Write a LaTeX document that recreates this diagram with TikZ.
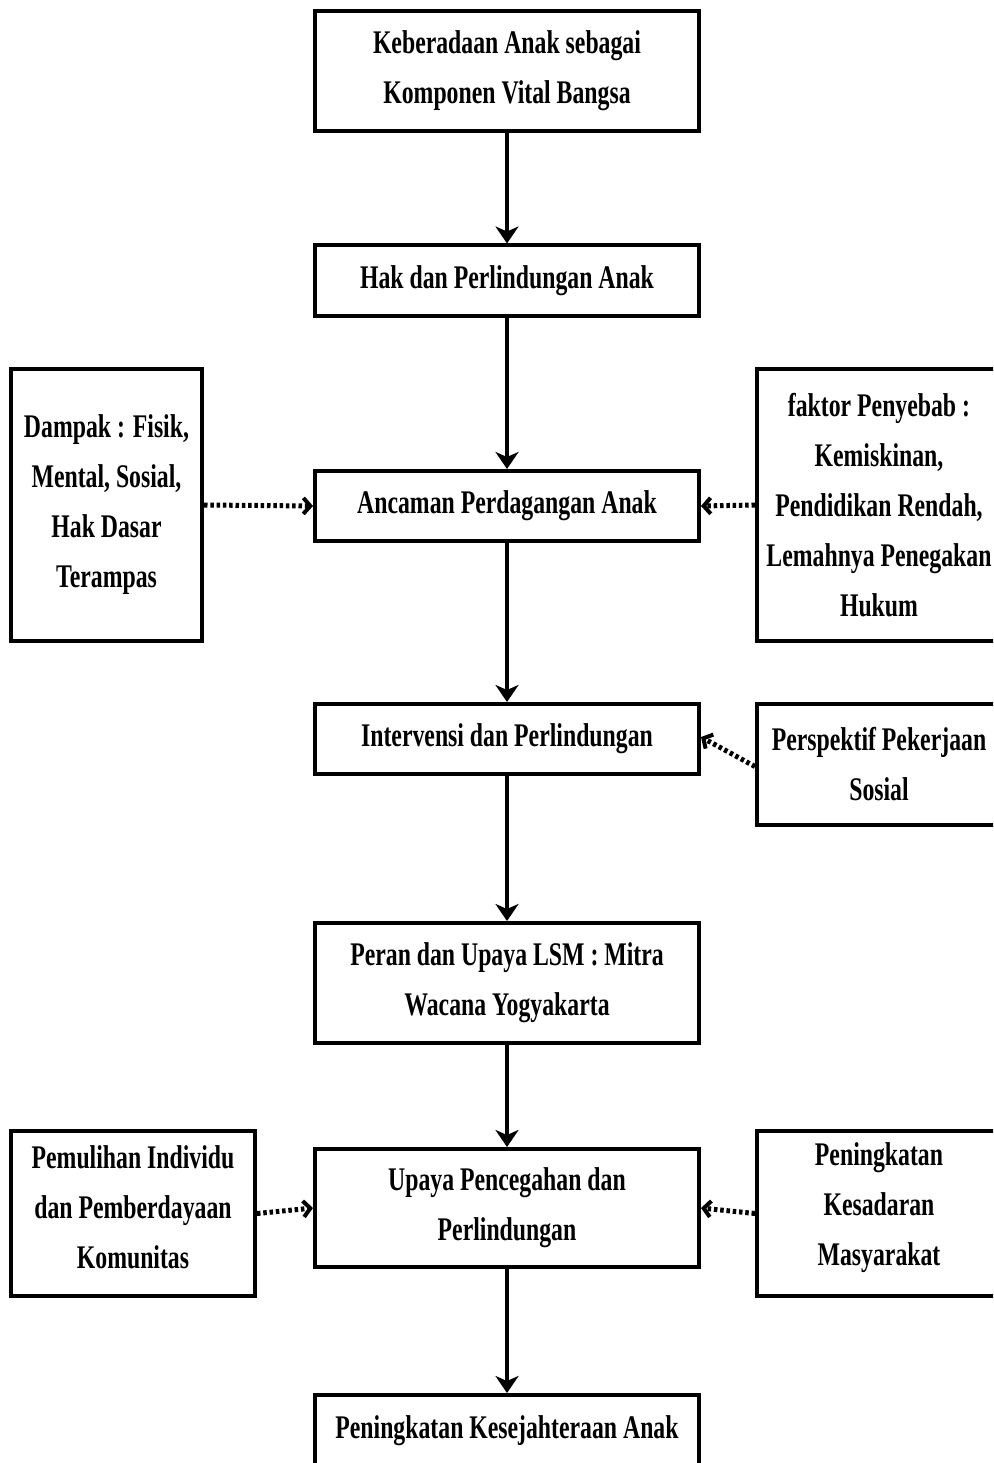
\documentclass[tikz,border=0pt]{standalone}
\usepackage{fontspec}
\setmainfont{Liberation Serif}[FakeStretch=0.72]
\usetikzlibrary{arrows.meta}
\tikzset{
  boxtext/.style={align=center, inner sep=0pt,
    font=\fontsize{33}{50}\selectfont\bfseries},
  box/.style={draw=black, line width=4pt, fill=white, boxtext},
  flow/.style={line width=4pt, -{Stealth[length=17pt,width=23pt,inset=5pt]}},
  dotarrow/.style={line width=5pt, dash pattern=on 3.5pt off 2.8pt,
    -{Straight Barb[length=7pt,width=16pt,line width=4pt]}}
}
\begin{document}
\begin{tikzpicture}[x=1pt,y=-1pt]
\clip (0,0) rectangle (993,1463);
\fill[white] (0,0) rectangle (993,1463);
% main column
\node[box, minimum width=384, minimum height=120] (b1) at (507,71) {Keberadaan Anak sebagai\\Komponen Vital Bangsa};
\node[box, minimum width=384, minimum height=70] (b2) at (507,280.5) {Hak dan Perlindungan Anak};
\node[box, minimum width=384, minimum height=70] (b3) at (507,506) {Ancaman Perdagangan Anak};
\node[box, minimum width=384, minimum height=70] (b4) at (507,739) {Intervensi dan Perlindungan};
\node[box, minimum width=384, minimum height=120] (b5) at (507,983) {Peran dan Upaya LSM : Mitra\\Wacana Yogyakarta};
\node[box, minimum width=384, minimum height=118] (b6) at (507,1208) {Upaya Pencegahan dan\\Perlindungan};
\node[box, minimum width=384, minimum height=72] (b7) at (507,1431) {Peningkatan Kesejahteraan Anak};
% side boxes
\node[box, minimum width=191, minimum height=272] (l1) at (106.5,505) {Dampak : Fisik,\\Mental, Sosial,\\Hak Dasar\\Terampas};
\node[box, minimum width=244, minimum height=272] (r1) at (879,505) {faktor Penyebab :\\Kemiskinan,\\Pendidikan Rendah,\\Lemahnya Penegakan\\Hukum};
\node[box, minimum width=244, minimum height=121] (r2) at (879,764.5) {Perspektif Pekerjaan\\Sosial};
\node[box, minimum width=244, minimum height=165,
  label={[boxtext, yshift=6pt]center:Pemulihan Individu\\dan Pemberdayaan\\Komunitas}] (l2) at (133,1213.5) {};
\node[box, minimum width=244, minimum height=165,
  label={[boxtext, yshift=6pt]center:Peningkatan\\Kesadaran\\Masyarakat}] (r3) at (879,1213.5) {};
% solid arrows
\draw[flow] (b1.south) -- (b2.north);
\draw[flow] (b2.south) -- (b3.north);
\draw[flow] (b3.south) -- (b4.north);
\draw[flow] (b4.south) -- (b5.north);
\draw[flow] (b5.south) -- (b6.north);
\draw[flow] (b6.south) -- (b7.north);
% dotted arrows
\draw[dotarrow] (l1.east) -- (b3.west);
\draw[dotarrow] (r1.west) -- (b3.east);
\coordinate (r2s) at ([yshift=-2pt]r2.west);
\coordinate (b4e) at ([yshift=2pt]b4.east);
\draw[dotarrow] (r2s) -- (b4e);
\draw[dotarrow] (l2.east) -- (b6.west);
\draw[dotarrow] (r3.west) -- (b6.east);
\end{tikzpicture}
\end{document}
